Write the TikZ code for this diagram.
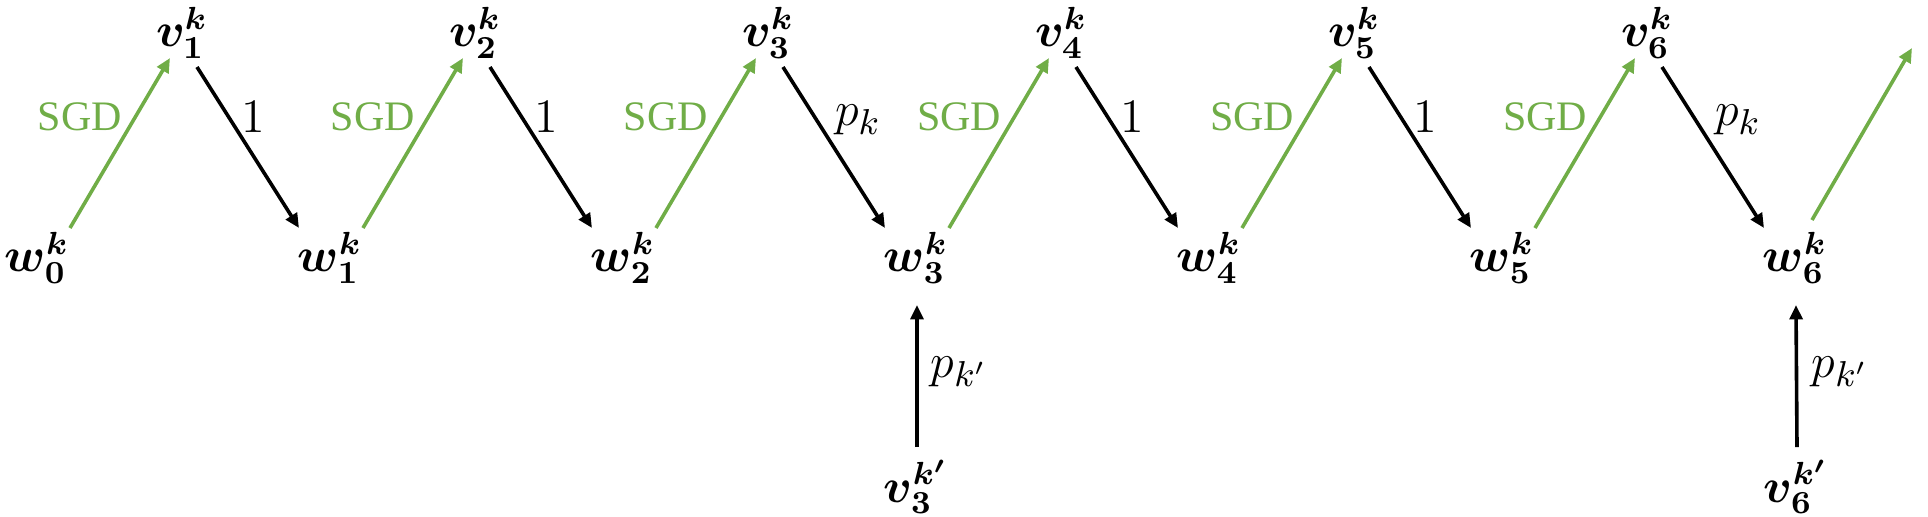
\documentclass[tikz,border=0pt]{standalone}
\usepackage{fontspec}
\usepackage{bm}
\newfontfamily\sgdfont{Liberation Serif}
\usetikzlibrary{arrows.meta}
\definecolor{sgdgreen}{RGB}{112,173,71}
\begin{document}
\begin{tikzpicture}[x=0.25pt,y=-0.25pt,
  lbl/.style={inner sep=0pt, font=\fontsize{12}{14}\selectfont},
  elbl/.style={inner sep=0pt, font=\fontsize{12.5}{14}\selectfont},
  sgdlabel/.style={inner sep=0pt, text=sgdgreen, font=\sgdfont\fontsize{10.5}{12}\selectfont},
  sgdarrow/.style={draw=sgdgreen, line width=0.9pt, -{Triangle[length=3.6pt,width=3.2pt]}},
  avgarrow/.style={draw=black, line width=0.9pt, -{Triangle[length=3.6pt,width=3.2pt]}}]
\useasboundingbox (0,0) rectangle (1928,516);
% nodes
\foreach \i in {0,...,6}
  \node[lbl] (w\i) at ({37+293*\i},258) {$\bm{w_{\i}^{k}}$};
\foreach \i in {1,...,6}
  \node[lbl] (v\i) at ({182+293*(\i-1)},33) {$\bm{v_{\i}^{k}}$};
\node[lbl] (b3) at (916,487) {$\bm{v_{3}^{k'}}$};
\node[lbl] (b6) at (1796,487) {$\bm{v_{6}^{k'}}$};
\coordinate (tail) at (1912,48);
% SGD arrows
\foreach \i [evaluate=\i as \j using int(\i+1)] in {0,...,5}
  \draw[sgdarrow] ([shift={(33,-30)}]w\i.center) -- ([shift={(-12,25)}]v\j.center);
\draw[sgdarrow] ([shift={(17,-38)}]w6.center) -- (tail);
% averaging arrows
\foreach \i in {1,...,6}
  \draw[avgarrow] ([shift={(15,34)}]v\i.center) -- ([shift={(-31,-30)}]w\i.center);
\draw[avgarrow] ([shift={(1,-40)}]b3.center) -- ([shift={(1,47)}]w3.center);
\draw[avgarrow] ([shift={(1,-40)}]b6.center) -- ([shift={(1,47)}]w6.center);
% labels
\foreach \i in {0,...,5}
  \node[sgdlabel] (s\i) at ({80+293*\i},117) {SGD};
\foreach \i in {1,2,4,5}
  \node[elbl] (one\i) at ({253+293*(\i-1)},117) {$1$};
\node[elbl] (pk3) at (858,120) {$p_k$};
\node[elbl] (pk6) at (1738,120) {$p_k$};
\node[elbl] (pq3) at (959,372) {$p_{k'}$};
\node[elbl] (pq6) at (1840,372) {$p_{k'}$};
\end{tikzpicture}
\end{document}
